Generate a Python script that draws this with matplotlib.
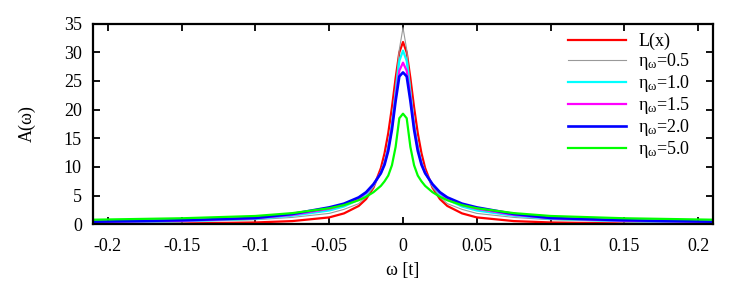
import matplotlib
matplotlib.use("Agg")
import matplotlib.pyplot as plt

plt.rcParams['font.family'] = ['Liberation Serif', 'DejaVu Serif']
plt.rcParams['mathtext.fontset'] = 'custom'
plt.rcParams['mathtext.rm'] = 'Liberation Serif'
plt.rcParams['mathtext.it'] = 'Liberation Serif:italic'

# omega grid
omega = [-0.21, -0.15, -0.1, -0.075, -0.05, -0.04, -0.03, -0.025, -0.02, -0.015,
         -0.0125, -0.01, -0.0075, -0.005, -0.0025, 0.0,
         0.0025, 0.005, 0.0075, 0.01, 0.0125, 0.015, 0.02, 0.025, 0.03, 0.04,
         0.05, 0.075, 0.1, 0.15, 0.21]

a_lorentz = [0.07, 0.14, 0.32, 0.56, 1.2, 1.9, 3.2, 4.4, 6.4, 9.8,
             12.4, 15.9, 20.4, 25.5, 30.0, 31.8,
             30.0, 25.5, 20.4, 15.9, 12.4, 9.8, 6.4, 4.4, 3.2, 1.9,
             1.2, 0.56, 0.32, 0.14, 0.07]

a_eta05 = [0.3, 0.45, 0.8, 1.2, 1.9, 2.6, 3.6, 4.8, 6.5, 9.0,
           11.0, 14.0, 18.0, 24.0, 30.5, 34.3,
           30.5, 24.0, 18.0, 14.0, 11.0, 9.0, 6.5, 4.8, 3.6, 2.6,
           1.9, 1.2, 0.8, 0.45, 0.3]

a_eta10 = [0.35, 0.55, 0.95, 1.5, 2.4, 3.1, 4.3, 5.3, 6.8, 9.0,
           10.8, 13.5, 17.5, 23.0, 28.5, 30.3,
           28.5, 23.0, 17.5, 13.5, 10.8, 9.0, 6.8, 5.3, 4.3, 3.1,
           2.4, 1.5, 0.95, 0.55, 0.35]

a_eta15 = [0.4, 0.62, 1.05, 1.65, 2.7, 3.35, 4.5, 5.5, 6.9, 9.0,
           10.6, 13.2, 17.0, 22.2, 26.8, 28.2,
           26.8, 22.2, 17.0, 13.2, 10.6, 9.0, 6.9, 5.5, 4.5, 3.35,
           2.7, 1.65, 1.05, 0.62, 0.4]

a_eta20 = [0.45, 0.7, 1.1, 1.8, 2.95, 3.6, 4.7, 5.6, 7.0, 8.9,
           10.4, 12.8, 16.5, 21.5, 25.8, 26.5,
           25.8, 21.5, 16.5, 12.8, 10.4, 8.9, 7.0, 5.6, 4.7, 3.6,
           2.95, 1.8, 1.1, 0.7, 0.45]

a_eta50 = [0.8, 1.05, 1.45, 1.95, 2.8, 3.35, 4.2, 4.8, 5.6, 6.7,
           7.5, 8.5, 10.3, 13.5, 18.5, 19.3,
           18.5, 13.5, 10.3, 8.5, 7.5, 6.7, 5.6, 4.8, 4.2, 3.35,
           2.8, 1.95, 1.45, 1.05, 0.8]

series = [
    ('L(x)', a_lorentz, '#ff0000', 1.6),
    ('η$_\\mathrm{ω}$=0.5', a_eta05, '#999999', 0.8),
    ('η$_\\mathrm{ω}$=1.0', a_eta10, '#00ffff', 1.6),
    ('η$_\\mathrm{ω}$=1.5', a_eta15, '#ff00ff', 1.6),
    ('η$_\\mathrm{ω}$=2.0', a_eta20, '#0000ff', 1.9),
    ('η$_\\mathrm{ω}$=5.0', a_eta50, '#00ff00', 1.6),
]

xticks = [-0.2, -0.15, -0.1, -0.05, 0, 0.05, 0.1, 0.15, 0.2]
xtick_labels = ['-0.2', '-0.15', '-0.1', '-0.05', '0', '0.05', '0.1', '0.15', '0.2']
yticks = [0, 5, 10, 15, 20, 25, 30, 35]

fig = plt.figure(figsize=(7.47, 2.87), dpi=100)
ax = fig.add_axes([0.1245, 0.2185, 0.83, 0.699])

for label, vals, color, lw in series:
    ax.plot(omega, vals, color=color, lw=lw, label=label)

ax.set_xlim(-0.21, 0.21)
ax.set_ylim(0, 35)
ax.set_xticks(xticks)
ax.set_xticklabels(xtick_labels)
ax.set_yticks(yticks)
ax.tick_params(direction='in', top=True, right=True, length=5, width=1.3,
               labelsize=13, pad=8)
ax.tick_params(axis='x', pad=10)
for sp in ax.spines.values():
    sp.set_linewidth(1.6)

ax.set_xlabel('ω [t]', fontsize=13, labelpad=5)
ax.set_ylabel('A(ω)', fontsize=13, labelpad=20)

ax.legend(loc='upper left', bbox_to_anchor=(0.766, 0.955), frameon=False,
          fontsize=13, handlelength=3.2, handletextpad=0.7, borderpad=0,
          borderaxespad=0, labelspacing=0.06)

fig.savefig('out.png', dpi=100)
